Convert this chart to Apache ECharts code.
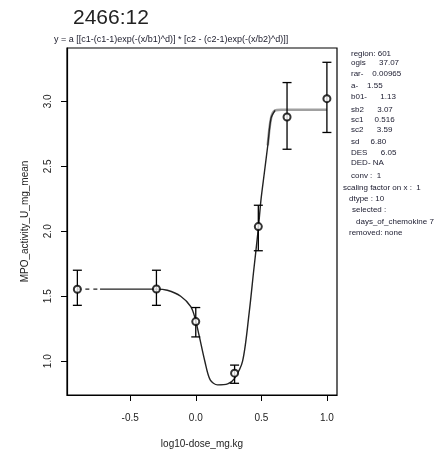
<!DOCTYPE html>
<html>
<head>
<meta charset="utf-8">
<script src="https://cdn.jsdelivr.net/npm/echarts@6/dist/echarts.min.js"></script>
<style>
  html, body { margin: 0; padding: 0; background: #fff; }
  #chart { width: 441px; height: 454px; }
</style>
</head>
<body>
<div id="chart"></div>
<script>
// observed dose groups (log10 dose) with mean and error bar ends
const doseX = [-0.903, -0.30, 0.0, 0.296, 0.477, 0.696, 1.0];
const meanY = [1.554, 1.556, 1.305, 0.908, 2.036, 2.879, 3.02];
const errLow = [1.43, 1.43, 1.187, 0.83, 1.85, 2.631, 2.76];
const errHigh = [1.70, 1.70, 1.413, 0.97, 2.20, 3.144, 3.30];

// fitted curve
const fitDashX = [-0.903, -0.86, -0.73];
const fitDashY = [1.555, 1.555, 1.555];
const fitX = [-0.73, -0.6, -0.3, -0.217, -0.115, -0.038, -0.005, 0.025, 0.069, 0.11, 0.166, 0.243, 0.293, 0.357, 0.408, 0.441, 0.477, 0.497, 0.523, 0.549, 0.574, 0.605];
const fitY = [1.555, 1.555, 1.555, 1.546, 1.50, 1.42, 1.33, 1.20, 1.0, 0.856, 0.818, 0.825, 0.864, 1.0, 1.38, 1.69, 2.02, 2.24, 2.45, 2.66, 2.87, 2.93];
const plateauX = [0.549, 0.574, 0.605, 0.65, 1.0];
const plateauY = [2.66, 2.87, 2.93, 2.935, 2.935];

const xTicks = [-0.5, 0, 0.5, 1.0];
const yTicks = [1.0, 1.5, 2.0, 2.5, 3.0];

const titleText = '2466:12';
const formulaText = 'y = a [[c1-(c1-1)exp(-(x/b1)^d)] * [c2 - (c2-1)exp(-(x/b2)^d)]]';
const infoLines = [
  ['region: 601', 351, 54],
  ['ogis      37.07', 351, 63],
  ['rar-    0.00965', 351, 74],
  ['a-    1.55', 351, 86],
  ['b01-      1.13', 351, 97],
  ['sb2      3.07', 351, 110],
  ['sc1     0.516', 351, 120],
  ['sc2      3.59', 351, 130],
  ['sd     6.80', 351, 142],
  ['DES      6.05', 351, 153],
  ['DED- NA', 351, 163],
  ['conv :  1', 351, 176],
  ['scaling factor on x :  1', 343, 188],
  ['dtype : 10', 349, 199],
  ['selected :', 352, 210],
  ['days_of_chemokine 7', 356, 222],
  ['removed: none', 349, 233]
];

const pair = (xs, ys) => xs.map((x, i) => [x, ys[i]]);

const chart = echarts.init(document.getElementById('chart'));

const option = {
  backgroundColor: '#fff',
  animation: false,
  textStyle: { fontFamily: 'Liberation Sans' },
  grid: {
    left: 67, top: 48, width: 270, height: 349,
    show: true, borderColor: '#000', borderWidth: 1.2, backgroundColor: 'transparent'
  },
  xAxis: {
    type: 'value',
    min: -0.982, max: 1.077,
    name: 'log10-dose_mg.kg',
    nameLocation: 'middle',
    nameGap: 44,
    nameTextStyle: { fontSize: 10, color: '#222' },
    splitLine: { show: false },
    axisLine: { show: true, onZero: false, lineStyle: { color: '#000', width: 1.2 } },
    axisTick: { show: true, customValues: xTicks, length: 6, lineStyle: { color: '#000' } },
    axisLabel: {
      customValues: xTicks, margin: 18, fontSize: 10, color: '#222',
      formatter: v => v.toFixed(1)
    }
  },
  yAxis: {
    type: 'value',
    min: 0.74, max: 3.41,
    name: 'MPO_activity_U_mg_mean',
    nameLocation: 'middle',
    nameGap: 37,
    nameTextStyle: { fontSize: 10, color: '#222' },
    splitLine: { show: false },
    axisLine: { show: true, onZero: false, lineStyle: { color: '#000', width: 1.2 } },
    axisTick: { show: true, customValues: yTicks, length: 6, lineStyle: { color: '#000' } },
    axisLabel: {
      customValues: yTicks, margin: 14, fontSize: 10, color: '#222', rotate: 90,
      formatter: v => v.toFixed(1)
    }
  },
  series: [
    {
      type: 'line', data: pair(plateauX, plateauY), showSymbol: false, smooth: 0.3,
      lineStyle: { color: '#a0a0a0', width: 2.6 }, z: 2
    },
    {
      type: 'line', data: pair(fitX, fitY), showSymbol: false, smooth: 0.3,
      lineStyle: { color: '#222', width: 1.4 }, z: 3
    },
    {
      type: 'line', data: pair(fitDashX, fitDashY), showSymbol: false,
      lineStyle: { color: '#222', width: 1.4, type: [4, 4] }, z: 3
    },
    {
      type: 'custom',
      data: doseX.map((x, i) => [x, errLow[i], errHigh[i]]),
      renderItem: (params, api) => {
        const lo = api.coord([api.value(0), api.value(1)]);
        const hi = api.coord([api.value(0), api.value(2)]);
        const w = 4.5;
        const style = { stroke: '#000', lineWidth: 1.3 };
        return {
          type: 'group',
          children: [
            { type: 'line', shape: { x1: lo[0], y1: lo[1], x2: hi[0], y2: hi[1] }, style },
            { type: 'line', shape: { x1: lo[0] - w, y1: lo[1], x2: lo[0] + w, y2: lo[1] }, style },
            { type: 'line', shape: { x1: hi[0] - w, y1: hi[1], x2: hi[0] + w, y2: hi[1] }, style }
          ]
        };
      },
      z: 4
    },
    {
      type: 'scatter', data: pair(doseX, meanY),
      symbol: 'emptyCircle', symbolSize: 7,
      itemStyle: { color: '#000', borderColor: '#000', borderWidth: 1.4 },
      z: 5
    }
  ],
  graphic: [
    {
      type: 'text', left: 73, top: 8,
      style: { text: titleText, fontSize: 21, fill: '#222', fontFamily: 'Liberation Sans' }
    },
    {
      type: 'text', left: 54, top: 35,
      style: { text: formulaText, fontSize: 9, fill: '#1a1a2a', fontFamily: 'Liberation Sans' }
    },
    ...infoLines.map(([t, x, y]) => ({
      type: 'text', x: x, y: y - 4,
      style: { text: t, fontSize: 8, fill: '#1a1a2e', fontFamily: 'Liberation Sans' }
    }))
  ]
};

chart.setOption(option);
</script>
</body>
</html>
